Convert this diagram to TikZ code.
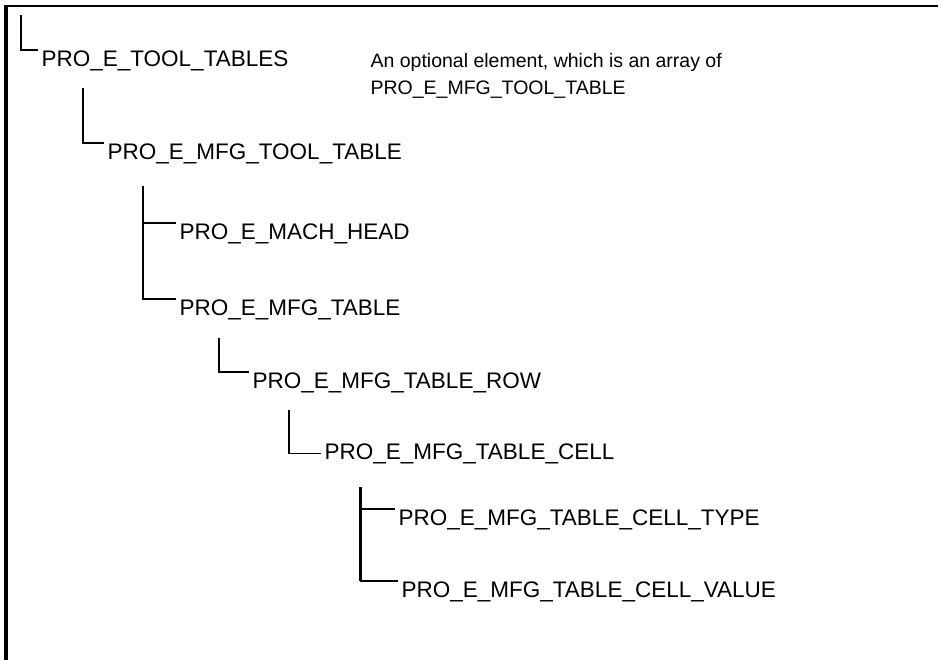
\documentclass[tikz,border=0pt]{standalone}
\usepackage{fontspec}
\setmainfont{Liberation Sans}

\begin{document}
\begin{tikzpicture}[x=1pt, y=-1pt, line width=1.2pt,
    elem/.style={anchor=north west, inner xsep=3pt, inner ysep=0pt, font=\fontsize{22.5}{27}\selectfont},
    note/.style={anchor=north west, inner sep=0pt, align=left, font=\fontsize{19.5}{27}\selectfont}]
  \useasboundingbox (0,0) rectangle (942,660);
  % frame
  \draw[line width=2pt] (938,6) -- (5,6);
  \draw[line width=3.5pt] (6,5) -- (6,660);

  \node[elem] (tooltables) at (38,50) {PRO\_E\_TOOL\_TABLES};
  \node[note] (note) at (370,53) {An optional element, which is an array of\\PRO\_E\_MFG\_TOOL\_TABLE};
  \node[elem] (mfgtooltable) at (104,143) {PRO\_E\_MFG\_TOOL\_TABLE};
  \node[elem] (machhead) at (176,223) {PRO\_E\_MACH\_HEAD};
  \node[elem] (mfgtable) at (176,299) {PRO\_E\_MFG\_TABLE};
  \node[elem] (tablerow) at (249,372) {PRO\_E\_MFG\_TABLE\_ROW};
  \node[elem] (tablecell) at (321,443) {PRO\_E\_MFG\_TABLE\_CELL};
  \node[elem] (celltype) at (395,509) {PRO\_E\_MFG\_TABLE\_CELL\_TYPE};
  \node[elem] (cellvalue) at (398,581) {PRO\_E\_MFG\_TABLE\_CELL\_VALUE};

  \coordinate (r0) at (21,15);
  \coordinate (r1) at (83,88);
  \coordinate (r2) at (143,186);
  \coordinate (r3) at (219,338);
  \coordinate (r4) at (289,410);
  \coordinate (r5) at (360,487);

  % tree lines
  \draw (r0) |- (tooltables.north west);
  \draw (r1) |- (mfgtooltable.north west);
  \draw (r2) |- (machhead.north west);
  \draw (r2) |- (mfgtable.north west);
  \draw (r3) |- (tablerow.north west);
  \draw (r4) |- (tablecell.west);
  \draw[line width=3pt] (r5) -- (r5 |- cellvalue.north west);
  \draw (r5 |- celltype.north west) -- (celltype.north west);
  \draw (r5 |- cellvalue.north west) -- (cellvalue.north west);
\end{tikzpicture}
\end{document}
